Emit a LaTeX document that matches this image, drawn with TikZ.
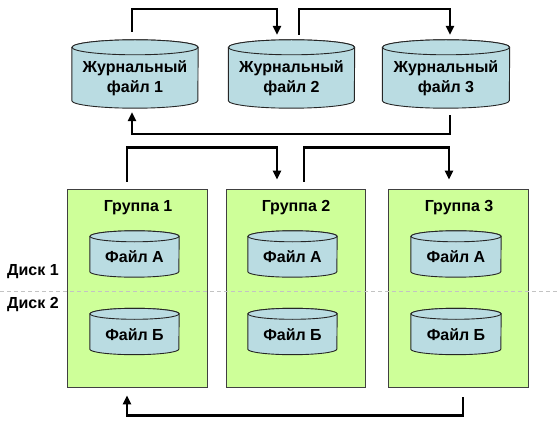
\documentclass[tikz,border=0pt]{standalone}
\usepackage{fontspec}
\setmainfont{Liberation Sans}
\usetikzlibrary{arrows.meta,calc}
\definecolor{cylfill}{RGB}{186,220,226}
\definecolor{grpfill}{RGB}{206,255,153}
\definecolor{dashgray}{RGB}{195,195,195}
\tikzset{
  lbl/.style={font=\bfseries\fontsize{16}{18}\selectfont, align=center, inner sep=0pt},
  cylbody/.style={fill=cylfill, draw=black!85, line width=0.9pt},
  grp/.style={draw=black!75, fill=grpfill, line width=0.9pt, minimum width=140pt, minimum height=198pt, inner sep=0pt},
  arr/.style={line width=2.3pt, -{Triangle[length=9pt,width=8pt]}},
  ghost/.style={draw=none, inner sep=0pt},
}
% #1 name, #2 cx, #3 cy, #4 w, #5 h, #6 ry, #7 text, #8 text shift
\newcommand\mycyl[8]{%
  \node[ghost, minimum width=#4pt, minimum height=#5pt] (#1) at (#2,#3) {};
  \filldraw[cylbody] ([yshift=-#6pt]#1.north west) -- ([yshift=#6pt]#1.south west)
     arc[start angle=180, end angle=360, x radius=#4pt/2, y radius=#6pt]
     -- ([yshift=-#6pt]#1.north east)
     arc[start angle=0, end angle=180, x radius=#4pt/2, y radius=#6pt] -- cycle;
  \draw[cylbody] ([yshift=-#6pt]#1.north) ellipse[x radius=#4pt/2, y radius=#6pt];
  \node[lbl] (#1t) at ([yshift=-#8pt]#1.center) {#7};
}
\begin{document}
\begin{tikzpicture}[x=1pt, y=-1pt]
\useasboundingbox (0,0) rectangle (560,433);
% journal cylinders
\mycyl{c1}{135}{74}{126}{68}{7.5}{Журнальный\\[2pt]файл 1}{4}
\mycyl{c2}{291.5}{74}{126}{68}{7.5}{Журнальный\\[2pt]файл 2}{4}
\mycyl{c3}{446}{74}{127}{68}{7.5}{Журнальный\\[2pt]файл 3}{4}
% groups
\node[grp] (g1) at (137,288) {};
\node[grp, minimum width=139pt] (g2) at (295.5,288) {};
\node[grp] (g3) at (458,288) {};
\node[lbl] (g1t) at (138,208) {Группа 1};
\node[lbl] (g2t) at (296,208) {Группа 2};
\node[lbl] (g3t) at (459,208) {Группа 3};
% inner cylinders
\mycyl{a1}{134.5}{254}{89}{46}{5.5}{Файл А}{3}
\mycyl{b1}{134.5}{331.5}{89}{46}{5.5}{Файл Б}{3}
\mycyl{a2}{292.5}{254}{89}{46}{5.5}{Файл А}{3}
\mycyl{b2}{292.5}{331.5}{89}{46}{5.5}{Файл Б}{3}
\mycyl{a3}{456}{254}{90}{46}{5.5}{Файл А}{3}
\mycyl{b3}{456}{331.5}{90}{46}{5.5}{Файл Б}{3}
% disk separator
\coordinate (dl) at (0,291);
\coordinate (dr) at (560,291);
\draw[dashgray, dash pattern=on 4pt off 3pt, line width=0.8pt] (dl) -- (dr);
\node[lbl, anchor=west] (d1) at (7,272) {Диск 1};
\node[lbl, anchor=west] (d2) at (7,305) {Диск 2};
% arrows between journal files
\draw[arr, shorten <=8pt, shorten >=5pt] ([xshift=-3pt]c1.north) -- ++(0,-31) -| ([xshift=-14.5pt]c2.north);
\draw[arr, shorten <=5pt, shorten >=5pt] ([xshift=7.5pt]c2.north) -- ++(0,-31) -| ([xshift=4pt]c3.north);
\draw[arr, shorten <=7pt, shorten >=4pt] ([xshift=4pt]c3.south) -- ++(0,26) -| ([xshift=-3pt]c1.south);
% arrows between groups
\draw[arr, shorten <=7pt, shorten >=9pt] ([xshift=-10pt]g1.north) -- ++(0,-41) -| ([xshift=-18.5pt]g2.north);
\draw[arr, shorten <=7pt, shorten >=9pt] ([xshift=8.5pt]g2.north) -- ++(0,-41) -| ([xshift=-9pt]g3.north);
\draw[arr, shorten <=10pt, shorten >=8pt] ([xshift=5pt]g3.south) -- ++(0,28) -| ([xshift=-10pt]g1.south);
\end{tikzpicture}
\end{document}
